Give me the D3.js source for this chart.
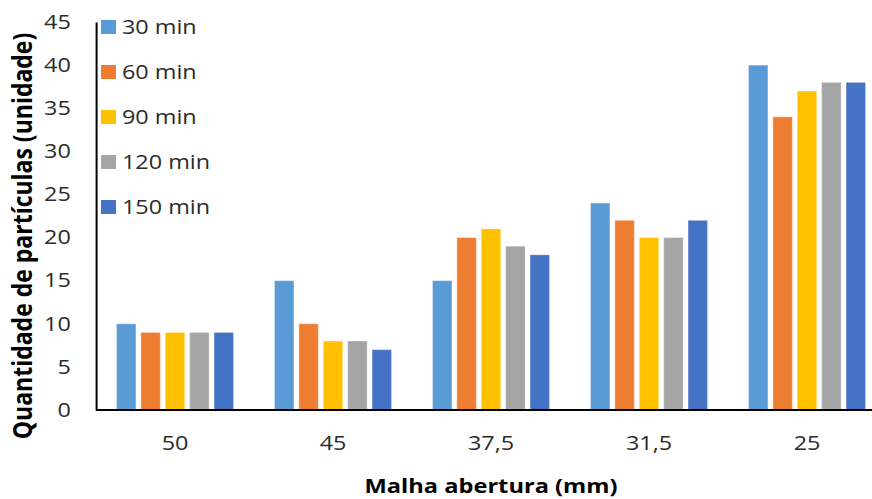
<!DOCTYPE html>
<html>
<head>
<meta charset="utf-8">
<script src="https://cdn.jsdelivr.net/npm/d3@7"></script>
<style>
  html, body { margin: 0; padding: 0; background: #fff; }
  svg { display: block; }
  text { font-family: "Open Sans", "Noto Sans", sans-serif; }
</style>
</head>
<body>
<svg id="chart" width="872" height="499"></svg>
<script>
// Malha abertura (mm) categories
const categories = ["50", "45", "37,5", "31,5", "25"];
// Series: sampling time
const seriesNames = ["30 min", "60 min", "90 min", "120 min", "150 min"];
const seriesColors = ["#5B9BD5", "#ED7D31", "#FFC000", "#A5A5A5", "#4472C4"];
// Quantity of particles per series, in category order
const s30  = [10, 15, 15, 24, 40];
const s60  = [9, 10, 20, 22, 34];
const s90  = [9, 8, 21, 20, 37];
const s120 = [9, 8, 19, 20, 38];
const s150 = [9, 7, 18, 22, 38];
const seriesValues = [s30, s60, s90, s120, s150];
const yTicks = [0, 5, 10, 15, 20, 25, 30, 35, 40, 45];

// Text in this chart is drawn horizontally widened, so the whole
// drawing lives in a group scaled along x.
const sx = 1.2;
const W = 872, H = 499;
const innerW = W / sx;

const svg = d3.select("#chart");
const g = svg.append("g").attr("transform", `scale(${sx},1)`);

const plotLeft = 96 / sx;
const plotRight = 886 / sx;
const plotTop = 22, plotBottom = 410;

const x0 = d3.scaleBand().domain(categories).range([plotLeft, plotRight]).paddingInner(0.228).paddingOuter(0.114);
const x1 = d3.scaleBand().domain(seriesNames).range([0, x0.bandwidth()]).paddingInner(0.2).paddingOuter(0.1);
const y = d3.scaleLinear().domain([0, 45]).range([plotBottom, plotTop]);

// Bars
const groups = g.append("g").selectAll("g")
  .data(categories)
  .join("g")
  .attr("transform", d => `translate(${x0(d)},0)`);

groups.selectAll("rect")
  .data((c, ci) => seriesNames.map((s, si) => ({ s, si, v: seriesValues[si][ci] })))
  .join("rect")
  .attr("x", d => x1(d.s))
  .attr("width", x1.bandwidth())
  .attr("y", d => y(d.v))
  .attr("height", d => y(0) - y(d.v))
  .attr("fill", d => seriesColors[d.si])
  .attr("stroke", "#ffffff")
  .attr("stroke-opacity", 0.35)
  .attr("stroke-width", 1);

// Y axis
const yAxis = g.append("g")
  .attr("transform", `translate(${plotLeft},0)`)
  .call(d3.axisLeft(y).tickValues(yTicks).tickSize(0).tickPadding(21).tickFormat(d3.format("d")));
yAxis.select(".domain").attr("stroke", "#000").attr("stroke-width", 2 / sx);
yAxis.selectAll("text").attr("font-size", 19.5).attr("fill", "#2b2b2b").attr("font-family", '"Open Sans", sans-serif');

// X axis
const xAxis = g.append("g")
  .attr("transform", `translate(0,${plotBottom})`)
  .call(d3.axisBottom(x0).tickSize(0).tickPadding(26));
xAxis.select(".domain").attr("stroke", "#000").attr("stroke-width", 2)
  .attr("d", `M${plotLeft},0H${innerW + 20}`);
xAxis.selectAll("text").attr("font-size", 19.5).attr("fill", "#2b2b2b").attr("font-family", '"Open Sans", sans-serif');

// Axis titles
g.append("text")
  .attr("transform", `translate(${32 / sx},236) rotate(-90)`)
  .attr("text-anchor", "middle")
  .attr("font-size", 23)
  .attr("font-weight", "bold")
  .attr("fill", "#000")
  .text("Quantidade de partículas (unidade)");

g.append("text")
  .attr("x", 491 / sx)
  .attr("y", 493)
  .attr("text-anchor", "middle")
  .attr("font-size", 19.7)
  .attr("font-weight", "bold")
  .attr("fill", "#000")
  .text("Malha abertura (mm)");

// Legend
const legend = g.append("g").attr("transform", `translate(${101 / sx},20)`);
const items = legend.selectAll("g")
  .data(seriesNames)
  .join("g")
  .attr("transform", (d, i) => `translate(0,${i * 45})`);
items.append("rect")
  .attr("width", 15 / sx)
  .attr("height", 14)
  .attr("fill", (d, i) => seriesColors[i]);
items.append("text")
  .attr("x", 21 / sx)
  .attr("y", 7)
  .attr("dy", "0.36em")
  .attr("font-size", 19.5)
  .attr("fill", "#2b2b2b")
  .text(d => d);
</script>
</body>
</html>
